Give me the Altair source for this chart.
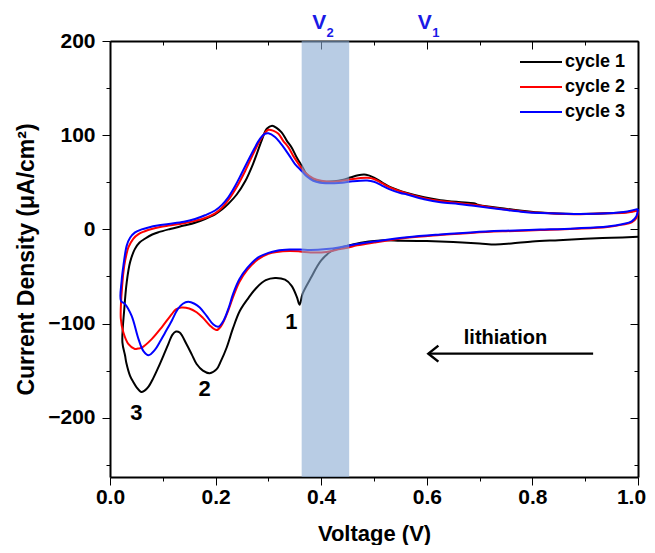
import altair as alt
import pandas as pd

# ---------------- data ----------------
cycles = ["cycle 1", "cycle 2", "cycle 3"]
cycle_colors = ["#000000", "#ff0000", "#0000ff"]

# cycle 1: cathodic branch (1.0 V -> 0.02 V), then anodic branch (0.02 V -> 1.0 V)
c1_cath_v = [1.000, 0.95, 0.90, 0.85, 0.80, 0.76, 0.73, 0.70, 0.65, 0.60, 0.55, 0.52, 0.49,
             0.46, 0.44, 0.42, 0.40, 0.38, 0.365, 0.359, 0.354, 0.344, 0.3315, 0.3125, 0.295,
             0.278, 0.262, 0.246, 0.233, 0.221, 0.21, 0.202, 0.189, 0.176, 0.164, 0.155, 0.145,
             0.132, 0.125, 0.118, 0.111, 0.102, 0.092, 0.082, 0.073, 0.065, 0.059, 0.0507,
             0.044, 0.038, 0.031, 0.0285, 0.0235]
c1_cath_i = [-8, -9, -10, -11.5, -13, -15, -16, -15, -13.5, -12.5, -12, -11.5, -13,
             -16, -19, -23, -33, -52, -68, -80, -72, -60, -53.5, -51.7, -54,
             -61.7, -73, -86.5, -105, -125.5, -140, -148.5, -152.8, -150, -143, -133, -122,
             -109.6, -108.5, -112, -121, -133, -146, -158, -167, -171.5, -172.7, -168,
             -162, -155.6, -142, -134, -120]
c1_anod_v = [0.027, 0.0317, 0.038, 0.047, 0.056, 0.066, 0.08, 0.092, 0.114, 0.14, 0.161, 0.18,
             0.199, 0.212, 0.224, 0.24, 0.256, 0.271, 0.287, 0.297, 0.307, 0.316, 0.325, 0.335,
             0.344, 0.354, 0.363, 0.373, 0.385, 0.398, 0.41, 0.425, 0.44, 0.455, 0.47, 0.485,
             0.50, 0.515, 0.53, 0.5625, 0.595, 0.626, 0.66, 0.689, 0.695, 0.70, 0.752, 0.815,
             0.879, 0.942, 0.98, 1.0]
c1_anod_i = [-85, -56, -35, -21, -14, -10, -5.5, -3, 0.4, 4, 7, 11,
             16, 21, 27, 37, 51, 69.6, 94, 106.8, 110, 107.5, 103, 94,
             87, 76, 67.8, 58, 53, 50.7, 50.5, 51, 52.5, 55, 57.5, 58,
             55, 50, 45, 38.5, 34, 31, 29, 27.7, 26.5, 25.5, 21.7, 17.8,
             16.4, 17, 18.5, 20.6]

# cycle 2
c2_cath_v = [1.0, 0.997, 0.988, 0.97, 0.942, 0.88, 0.815, 0.75, 0.689, 0.625, 0.5625, 0.50,
             0.468, 0.45, 0.436, 0.41, 0.38, 0.36, 0.34, 0.316, 0.30, 0.28, 0.26, 0.245, 0.233,
             0.222, 0.21, 0.202, 0.189, 0.176, 0.164, 0.15, 0.135, 0.125, 0.117, 0.098, 0.079,
             0.0605, 0.053, 0.047, 0.035, 0.0254, 0.0205]
c2_cath_i = [19, 12, 7.5, 5, 2.5, 0.5, -0.8, -2, -3.5, -6, -9, -14,
             -17, -19.5, -21, -24, -24.5, -23.5, -23, -24, -26, -32, -43, -56, -72,
             -89, -103, -107, -102, -94, -88, -84, -83, -85, -90, -104, -116.6,
             -125.5, -126.6, -127, -122, -109.6, -95]
c2_anod_v = [0.023, 0.027, 0.031, 0.035, 0.044, 0.054, 0.066, 0.079, 0.095, 0.111, 0.14, 0.161,
             0.18, 0.199, 0.212, 0.224, 0.24, 0.256, 0.2745, 0.29, 0.30, 0.31, 0.319, 0.328,
             0.338, 0.347, 0.357, 0.37, 0.385, 0.40, 0.42, 0.44, 0.46, 0.487, 0.50, 0.515,
             0.53, 0.5625, 0.595, 0.626, 0.66, 0.689, 0.752, 0.815, 0.879, 0.942, 0.98, 1.0]
c2_anod_i = [-60, -38.6, -27, -19, -10, -5, -2, 0.4, 2.5, 4, 6.5, 9,
             12, 17, 23, 31, 45, 62, 84, 99.7, 105.7, 104.5, 101.5, 94,
             87, 78, 69.6, 60, 54, 51.5, 50.5, 51.5, 53.5, 54.7, 53.5, 49,
             44.5, 38, 33, 30, 28, 26, 21, 17.5, 16, 17, 18, 20]

# cycle 3
c3_cath_v = [1.0, 0.997, 0.988, 0.97, 0.942, 0.88, 0.815, 0.75, 0.689, 0.625, 0.5625, 0.50,
             0.468, 0.45, 0.436, 0.41, 0.38, 0.36, 0.34, 0.316, 0.30, 0.28, 0.26, 0.245, 0.233,
             0.225, 0.215, 0.205, 0.195, 0.183, 0.17, 0.16, 0.148, 0.138, 0.128, 0.117, 0.104,
             0.094, 0.085, 0.073, 0.063, 0.054, 0.041, 0.0285, 0.0208]
c3_cath_i = [21.7, 14, 8.5, 5.5, 3, 1, -0.3, -1.5, -3, -5.5, -8.5, -13,
             -15.5, -17.5, -19, -21, -22, -21.5, -21.5, -22.7, -25, -30, -41, -53, -68.7,
             -83, -97, -103.5, -100.6, -92, -83, -79, -77, -79, -85, -97, -110,
             -120, -128, -133.6, -129, -116.6, -92, -79.4, -76]
c3_anod_v = [0.022, 0.0254, 0.0317, 0.038, 0.0475, 0.06, 0.073, 0.09, 0.111, 0.14, 0.161, 0.18,
             0.199, 0.212, 0.224, 0.237, 0.249, 0.268, 0.284, 0.2935, 0.30, 0.3125, 0.322, 0.331,
             0.34, 0.35, 0.363, 0.373, 0.385, 0.398, 0.41, 0.425, 0.44, 0.46, 0.487, 0.50,
             0.515, 0.53, 0.55, 0.5625, 0.595, 0.626, 0.66, 0.689, 0.752, 0.783, 0.815, 0.879,
             0.942, 0.98, 1.0]
c3_anod_i = [-55, -38.6, -17.3, -9, -3.2, 0, 2, 4, 5.7, 8, 11, 15,
             20, 26, 34, 46, 59, 80, 96, 101.5, 102, 98, 92, 85.5,
             78, 69.6, 62, 56, 51.5, 49.5, 49, 49, 49.5, 51, 51.8, 50.5,
             46.5, 42.5, 38.5, 37, 32, 28.7, 27, 25, 20.5, 18.5, 17.3, 16.4,
             17, 19, 21.7]

band_v = [0.363, 0.453]                  # shaded voltage window
peak_labels = ["1", "2", "3"]
peak_v = [0.3435, 0.179, 0.05]
peak_i = [-98.5, -169.5, -195.5]
lith_text = ["lithiation"]
lith_v = [0.749]
lith_i = [-121.6]
arrow_v = [0.915, 0.603]                 # tail, head
arrow_i = [-132]
v_names = ["V", "V"]
v_subs = ["2", "1"]
v_pos = [0.4, 0.6]

x_major = [0.0, 0.2, 0.4, 0.6, 0.8, 1.0]
x_minor = [0.1, 0.3, 0.5, 0.7, 0.9]
y_major = [-200, -100, 0, 100, 200]
y_minor = [-250, -150, -50, 50, 150]
x_domain = [0.0, 1.0]
y_domain = [-263, 200]

# ---------------- tables ----------------
rows = []
for name, vs, cs in [
    ("cycle 1", c1_cath_v + c1_anod_v, c1_cath_i + c1_anod_i),
    ("cycle 2", c2_cath_v + c2_anod_v, c2_cath_i + c2_anod_i),
    ("cycle 3", c3_cath_v + c3_anod_v, c3_cath_i + c3_anod_i),
]:
    for k, (v, c) in enumerate(zip(vs, cs)):
        rows.append({"cycle": name, "V": v, "I": c, "idx": k})
curves = pd.DataFrame(rows)

band_df = pd.DataFrame({"v0": [band_v[0]], "v1": [band_v[1]]})
peaks_df = pd.DataFrame({"label": peak_labels, "V": peak_v, "I": peak_i})
lith_df = pd.DataFrame({"label": lith_text, "V": lith_v, "I": lith_i})
arrow_df = pd.DataFrame({"v0": [arrow_v[0]], "v1": [arrow_v[1]], "I": arrow_i})
vlab_df = pd.DataFrame({"name": v_names, "sub": v_subs, "V": v_pos})

# ---------------- layout ----------------
W, H = 528, 436
FONT = "Liberation Sans"
xs = alt.Scale(domain=x_domain, nice=False, zero=False)
ys = alt.Scale(domain=y_domain, nice=False, zero=False)

base = dict(tickColor="#000000", domainColor="#000000", domainWidth=2, gridOpacity=0)

# main axes (bottom / left) with labels
x_bottom = alt.Axis(orient="bottom", values=x_major, format=".1f", tickSize=8,
                    labelFontSize=21, labelFontWeight="bold", labelColor="black",
                    labelPadding=1, labelFlush=False,
                    labelOffset={"condition": {"test": "datum.value >= 1", "value": -7},
                                 "value": 0},
                    title="Voltage (V)", titleFontSize=22,
                    titleFontWeight="bold", titleColor="black", titleY=63,
                    titleBaseline="alphabetic", **base)
y_left = alt.Axis(orient="left", values=y_major, tickSize=8,
                  labelFontSize=21, labelFontWeight="bold", labelColor="black",
                  labelPadding=7, title="Current Density (\u03bcA/cm\u00b2)",
                  titleFontSize=23, titleFontWeight="bold", titleColor="black",
                  titleAngle=270, titleX=-77, titleY=H / 2, titleAlign="center",
                  titleBaseline="alphabetic", **base)
# minor ticks bottom / left
x_bottom_minor = alt.Axis(orient="bottom", values=x_minor, tickSize=4, labels=False,
                          domain=False, title="", **base)
y_left_minor = alt.Axis(orient="left", values=y_minor, tickSize=4, labels=False,
                        domain=False, title="", **base)
# mirrored frame with inward ticks (top / right)
x_top = alt.Axis(orient="bottom", offset=-H, values=x_major, tickSize=8, labels=False,
                 title="", **base)
y_right = alt.Axis(orient="left", offset=-W, values=y_major, tickSize=8, labels=False,
                   title="", **base)
x_top_minor = alt.Axis(orient="bottom", offset=-H, values=x_minor, tickSize=4,
                       labels=False, domain=False, title="", **base)
y_right_minor = alt.Axis(orient="left", offset=-W, values=y_minor, tickSize=4,
                         labels=False, domain=False, title="", **base)

lines = alt.Chart(curves).mark_line(strokeWidth=2, interpolate="catmull-rom").encode(
    x=alt.X("V:Q", scale=xs, axis=x_bottom),
    y=alt.Y("I:Q", scale=ys, axis=y_left),
    color=alt.Color("cycle:N", scale=alt.Scale(domain=cycles, range=cycle_colors),
                    legend=alt.Legend(title=None, orient="none", legendX=422, legendY=12,
                                      symbolType="M-3,0H3", symbolSize=196,
                                      symbolStrokeWidth=2, labelOffset=15,
                                      labelFontSize=18, labelFontWeight="bold",
                                      labelColor="black", rowPadding=7, padding=0)),
    order=alt.Order("idx:Q"),
)

band = alt.Chart(band_df).mark_rect(color="#89aad2", opacity=0.6).encode(
    x=alt.X("v0:Q", scale=xs, axis=None),
    x2="v1:Q",
    y=alt.value(0),
    y2=alt.value(H),
)

peaks = alt.Chart(peaks_df).mark_text(fontSize=22, fontWeight="bold", color="black",
                                      baseline="middle", align="center").encode(
    x=alt.X("V:Q", scale=xs, axis=x_bottom_minor),
    y=alt.Y("I:Q", scale=ys, axis=y_left_minor),
    text="label:N",
)

lith = alt.Chart(lith_df).mark_text(fontSize=20, fontWeight="bold", color="black",
                                    baseline="alphabetic", align="center").encode(
    x=alt.X("V:Q", scale=xs, axis=x_top),
    y=alt.Y("I:Q", scale=ys, axis=y_right),
    text="label:N",
)

arrow = alt.Chart(arrow_df).mark_rule(strokeWidth=2.2, color="black").encode(
    x=alt.X("v0:Q", scale=xs, axis=x_top_minor),
    x2="v1:Q",
    y=alt.Y("I:Q", scale=ys, axis=y_right_minor),
)

head = alt.Chart(arrow_df).mark_point(shape="M1,-0.8L0,0L1,0.8", size=400, filled=False,
                                      strokeWidth=2.5, color="black", opacity=1).encode(
    x=alt.X("v1:Q", scale=xs, axis=None),
    y=alt.Y("I:Q", scale=ys, axis=None),
)

v_main = alt.Chart(vlab_df).mark_text(fontSize=21, fontWeight="bold", color="#1a1ae6",
                                      baseline="middle", align="center", dx=-2).encode(
    x=alt.X("V:Q", scale=xs, axis=None),
    y=alt.value(-18),
    text="name:N",
)
v_sub = alt.Chart(vlab_df).mark_text(fontSize=13, fontWeight="bold", color="#1a1ae6",
                                     baseline="middle", align="center", dx=9).encode(
    x=alt.X("V:Q", scale=xs, axis=None),
    y=alt.value(-8),
    text="sub:N",
)

chart = alt.layer(lines, band, peaks, lith, arrow, head, v_main, v_sub).resolve_axis(
    x="independent", y="independent"
).properties(
    width=W, height=H,
    autosize=alt.AutoSizeParams(type="none"),
    padding={"left": 102, "top": 33, "right": 9, "bottom": 68},
).configure_view(stroke=None).configure(font=FONT)

chart.save("out.html", embed_options={"renderer": "svg", "actions": False})
